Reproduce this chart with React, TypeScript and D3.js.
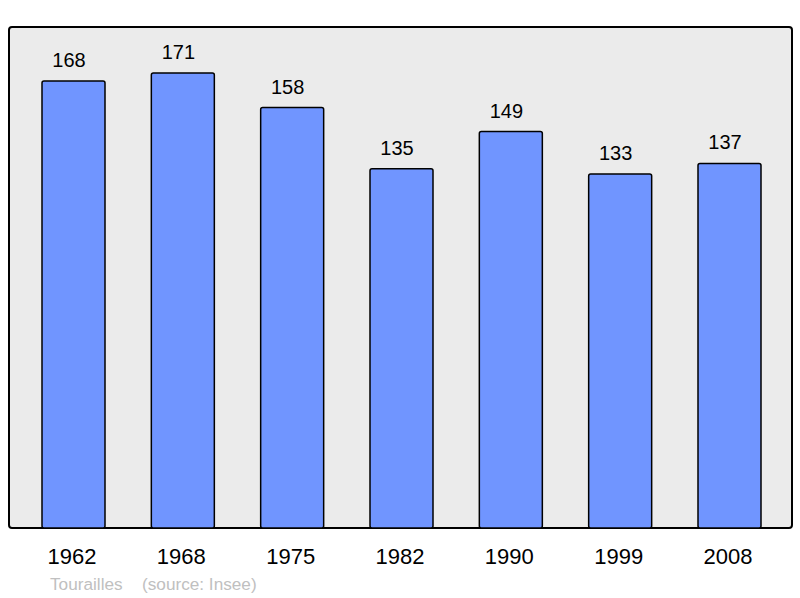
import React from 'react';
import * as d3 from 'd3';

const years = ['1962', '1968', '1975', '1982', '1990', '1999', '2008'];
const population = [168, 171, 158, 135, 149, 133, 137];
const place = 'Tourailles';
const source = '(source: Insee)';

const width = 800;
const height = 598;
const panel = { left: 9, top: 27, right: 792, bottom: 528 };
const barWidth = 63;
const font = 'Liberation Sans, Arial, sans-serif';

const App = () => {
	const x = d3.scalePoint<string>().domain(years).range([73.5, 729.5]);
	const y = d3.scaleLinear().domain([0, d3.max(population) as number]).range([panel.bottom, 73]);

	return (
		<svg width={width} height={height} style={{ position: 'absolute', left: 0, top: 0 }}>
			<rect x={0} y={0} width={width} height={height} fill="#ffffff" />
			<rect
				x={panel.left}
				y={panel.top}
				width={panel.right - panel.left}
				height={panel.bottom - panel.top}
				rx={3}
				fill="#ebebeb"
				stroke="#000000"
				strokeWidth={2}
			/>
			{years.map((yr, i) => (
				<g key={yr}>
					<rect
						x={(x(yr) as number) - barWidth / 2}
						y={y(population[i])}
						width={barWidth}
						height={panel.bottom - y(population[i])}
						rx={2}
						fill="#7095ff"
						stroke="#000000"
						strokeWidth={1.5}
					/>
					<text
						x={(x(yr) as number) - 4.5}
						y={y(population[i]) - 14}
						textAnchor="middle"
						fontFamily={font}
						fontSize={20}
						fill="#000000"
					>
						{population[i]}
					</text>
					<text
						x={(x(yr) as number) - 1.5}
						y={564}
						textAnchor="middle"
						fontFamily={font}
						fontSize={22}
						fill="#000000"
					>
						{yr}
					</text>
				</g>
			))}
			<text x={50} y={590} fontFamily={font} fontSize={17.2} fill="#c0c0c0">
				{place}
			</text>
			<text x={142} y={590} fontFamily={font} fontSize={17.2} fill="#c0c0c0">
				{source}
			</text>
		</svg>
	);
};

export default App;
